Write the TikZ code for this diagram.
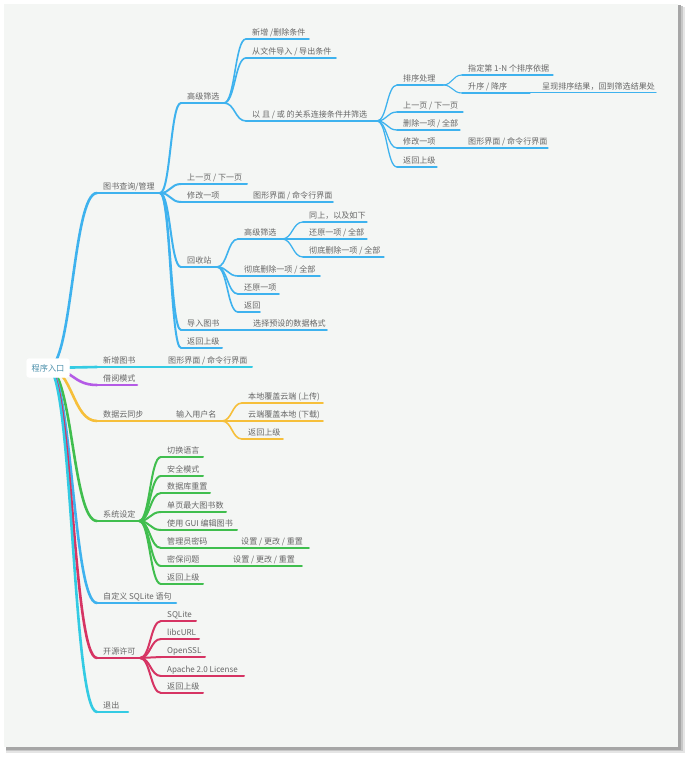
\documentclass[tikz,border=0pt]{standalone}
\usepackage{fontspec}
\newfontfamily\cjk{Noto Sans CJK SC}
\usetikzlibrary{calc}
\definecolor{cblue}{HTML}{3EB2EE}
\definecolor{ccyan}{HTML}{33CBE3}
\definecolor{cpurple}{HTML}{B45BE6}
\definecolor{cyellow}{HTML}{F6BF3A}
\definecolor{cgreen}{HTML}{40BE4E}
\definecolor{cred}{HTML}{D63463}
\definecolor{ctext}{HTML}{666666}
\definecolor{croot}{HTML}{4A8FAA}
\definecolor{cpanel}{HTML}{F4F6F4}
\tikzset{
  lbl/.style={anchor=base west, inner sep=0pt, text=ctext, font=\cjk\fontsize{8.05}{9}\selectfont},
  rootbox/.style={draw=white, fill=white, rounded corners=3pt, minimum width=43pt, minimum height=19pt, text=croot, font=\cjk\fontsize{8.2}{9}\selectfont},
  conn/.style={line cap=round, line join=round}
}
% name, text x, line y, line end x, text, colour, width
\newcommand\mmn[7]{%
  \coordinate (#1-s) at (#2-6,#3);
  \coordinate (#1-e) at (#4,#3);
  \node[lbl] (#1) at (#2,#3-3.5) {#5};
  \draw[conn, #6, line width=#7] (#1-s) -- (#1-e);
}
% parent, child, colour, width
\newcommand\mme[4]{%
  \draw[conn, #3, line width=#4] let \p1=(#1-e), \p2=(#2-s) in
    (\p1) .. controls ({0.5*\x1+0.5*\x2},\y1) and ({0.5*\x1+0.5*\x2},\y2) .. (\p2);
}
\begin{document}
\begin{tikzpicture}[x=1pt,y=-1pt]
\useasboundingbox (0,0) rectangle (690,762);
\fill[white] (0,0) rectangle (690,762);
% shadow and panel
\fill[black!10] (6,7) rectangle (685,753);
\fill[black!22] (6,6) rectangle (683,751);
\fill[black!35] (6,5) rectangle (681,749.5);
\fill[cpanel] (4,4) rectangle (678,747);

\coordinate (r-e) at (48,368);

% level 1
\mmn{a}{103}{193}{160}{图书查询/管理}{cblue}{2.6pt}
\mmn{b}{103}{367}{150}{新增图书}{ccyan}{2.6pt}
\mmn{c}{103}{385}{137}{借阅模式}{cpurple}{2.6pt}
\mmn{d}{103}{421}{150}{数据云同步}{cyellow}{2.6pt}
\mmn{e}{103}{521}{139}{系统设定}{cgreen}{2.6pt}
\mmn{f}{103}{603}{176}{自定义 SQLite 语句}{cblue}{2.6pt}
\mmn{g}{103}{658}{140}{开源许可}{cred}{2.6pt}
\mmn{h}{103}{712}{128}{退出}{ccyan}{2.6pt}
\mme{r}{a}{cblue}{2.6pt}
\mme{r}{b}{ccyan}{2.6pt}
\mme{r}{c}{cpurple}{2.6pt}
\mme{r}{d}{cyellow}{2.6pt}
\mme{r}{e}{cgreen}{2.6pt}
\mme{r}{f}{cblue}{2.6pt}
\mme{r}{g}{cred}{2.6pt}
\mme{r}{h}{ccyan}{2.6pt}

% books branch
\mmn{a1}{187}{103}{224}{高级筛选}{cblue}{2pt}
\mmn{a2}{187}{184}{247}{上一页 / 下一页}{cblue}{2pt}
\mmn{a3}{187}{202}{240}{修改一项}{cblue}{2pt}
\mmn{a4}{187}{267}{217}{回收站}{cblue}{2pt}
\mmn{a5}{187}{330}{240}{导入图书}{cblue}{2pt}
\mmn{a6}{187}{348}{222}{返回上级}{cblue}{2pt}
\foreach \c in {a1,a2,a3,a4,a5,a6} {\mme{a}{\c}{cblue}{2pt}}

\mmn{a3x}{253}{202}{333}{图形界面 / 命令行界面}{cblue}{1.6pt}
\mme{a3}{a3x}{cblue}{1.6pt}
\mmn{a5x}{253}{330}{327}{选择预设的数据格式}{cblue}{1.6pt}
\mme{a5}{a5x}{cblue}{1.6pt}

\mmn{a11}{252}{39}{309}{新增 /删除条件}{cblue}{1.6pt}
\mmn{a12}{252}{58}{336}{从文件导入 / 导出条件}{cblue}{1.6pt}
\mmn{a13}{252}{121}{377}{以 且 / 或 的关系连接条件并筛选}{cblue}{1.6pt}
\foreach \c in {a11,a12,a13} {\mme{a1}{\c}{cblue}{1.6pt}}

\mmn{a131}{403}{85}{443}{排序处理}{cblue}{1.3pt}
\mmn{a132}{403}{112}{463}{上一页 / 下一页}{cblue}{1.3pt}
\mmn{a133}{403}{130}{460}{删除一项 / 全部}{cblue}{1.3pt}
\mmn{a134}{403}{148}{455}{修改一项}{cblue}{1.3pt}
\mmn{a135}{403}{167}{437}{返回上级}{cblue}{1.3pt}
\foreach \c in {a131,a132,a133,a134,a135} {\mme{a13}{\c}{cblue}{1.3pt}}
\mmn{a134x}{468}{148}{548}{图形界面 / 命令行界面}{cblue}{1.1pt}
\mme{a134}{a134x}{cblue}{1.1pt}

\mmn{a1311}{468}{75}{553}{指定第 1-N 个排序依据}{cblue}{1.1pt}
\mmn{a1312}{468}{93}{530}{升序 / 降序}{cblue}{1.1pt}
\foreach \c in {a1311,a1312} {\mme{a131}{\c}{cblue}{1.1pt}}
\mmn{a1312x}{542}{93}{656}{呈现排序结果，回到筛选结果处}{cblue}{1pt}
\mme{a1312}{a1312x}{cblue}{1pt}

\mmn{a41}{244}{239}{282}{高级筛选}{cblue}{1.6pt}
\mmn{a42}{244}{276}{320}{彻底删除一项 / 全部}{cblue}{1.6pt}
\mmn{a43}{244}{294}{279}{还原一项}{cblue}{1.6pt}
\mmn{a44}{244}{312}{260}{返回}{cblue}{1.6pt}
\foreach \c in {a41,a42,a43,a44} {\mme{a4}{\c}{cblue}{1.6pt}}

\mmn{a411}{309}{222}{367}{同上，以及如下}{cblue}{1.3pt}
\mmn{a412}{309}{239}{367}{还原一项 / 全部}{cblue}{1.3pt}
\mmn{a413}{309}{257}{384}{彻底删除一项 / 全部}{cblue}{1.3pt}
\foreach \c in {a411,a412,a413} {\mme{a41}{\c}{cblue}{1.3pt}}

% new book
\mmn{b1}{168}{367}{252}{图形界面 / 命令行界面}{ccyan}{2pt}
\mme{b}{b1}{ccyan}{2pt}

% cloud sync
\mmn{d1}{176}{421}{222}{输入用户名}{cyellow}{2pt}
\mme{d}{d1}{cyellow}{2pt}
\mmn{d11}{248}{403}{323}{本地覆盖云端 (上传)}{cyellow}{1.6pt}
\mmn{d12}{248}{421}{323}{云端覆盖本地 (下载)}{cyellow}{1.6pt}
\mmn{d13}{248}{439}{283}{返回上级}{cyellow}{1.6pt}
\foreach \c in {d11,d12,d13} {\mme{d1}{\c}{cyellow}{1.6pt}}

% settings
\mmn{e1}{167}{457}{203}{切换语言}{cgreen}{2pt}
\mmn{e2}{167}{476}{203}{安全模式}{cgreen}{2pt}
\mmn{e3}{167}{493}{210}{数据库重置}{cgreen}{2pt}
\mmn{e4}{167}{512}{226}{单页最大图书数}{cgreen}{2pt}
\mmn{e5}{167}{530}{237}{使用 GUI 编辑图书}{cgreen}{2pt}
\mmn{e6}{167}{548}{225}{管理员密码}{cgreen}{2pt}
\mmn{e7}{167}{566}{215}{密保问题}{cgreen}{2pt}
\mmn{e8}{167}{584}{203}{返回上级}{cgreen}{2pt}
\foreach \c in {e1,e2,e3,e4,e5,e6,e7,e8} {\mme{e}{\c}{cgreen}{2pt}}
\mmn{e6x}{241}{548}{309}{设置 / 更改 / 重置}{cgreen}{1.6pt}
\mme{e6}{e6x}{cgreen}{1.6pt}
\mmn{e7x}{233}{566}{302}{设置 / 更改 / 重置}{cgreen}{1.6pt}
\mme{e7}{e7x}{cgreen}{1.6pt}

% licences
\mmn{g1}{167}{621}{196}{SQLite}{cred}{2pt}
\mmn{g2}{167}{639}{199}{libcURL}{cred}{2pt}
\mmn{g3}{167}{657}{205}{OpenSSL}{cred}{2pt}
\mmn{g4}{167}{676}{244}{Apache 2.0 License}{cred}{2pt}
\mmn{g5}{167}{693}{203}{返回上级}{cred}{2pt}
\foreach \c in {g1,g2,g3,g4,g5} {\mme{g}{\c}{cred}{2pt}}

% root
\node[rootbox] (r) at (r-e) {程序入口};
\end{tikzpicture}
\end{document}
